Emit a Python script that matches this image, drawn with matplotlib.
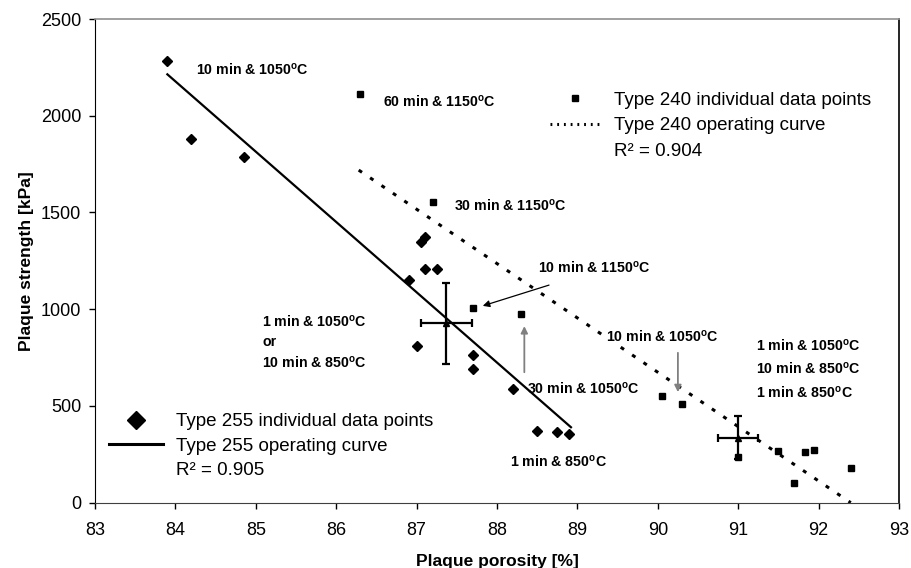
import numpy as np
import matplotlib
matplotlib.use('Agg')
import matplotlib.pyplot as plt
from matplotlib.lines import Line2D

plt.rcParams['font.family'] = ['Liberation Sans', 'DejaVu Sans']
plt.rcParams['mathtext.fontset'] = 'custom'
plt.rcParams['mathtext.rm'] = 'Liberation Sans'
plt.rcParams['mathtext.bf'] = 'Liberation Sans:bold'

# Type 255 individual points (porosity %, strength kPa)
x255 = [83.9, 84.2, 84.85, 87.05, 87.1, 87.1, 87.25, 86.9, 87.0, 87.7, 87.7, 88.2, 88.5, 88.75, 88.9]
y255 = [2285, 1880, 1785, 1350, 1375, 1210, 1210, 1150, 810, 765, 690, 590, 370, 365, 355]

# Type 240 individual points
x240 = [86.3, 87.2, 87.7, 88.3, 90.05, 90.3, 91.0, 91.5, 91.83, 91.94, 91.7, 92.4]
y240 = [2110, 1555, 1005, 975, 553, 508, 236, 268, 263, 274, 102, 178]

# operating curves (end points)
fit255_x = [83.9, 88.92]
fit255_y = [2214, 390]
fit240_x = [86.28, 92.4]
fit240_y = [1719, 0]

# mean +- spread crosses
mean_x = [87.37, 91.0]
mean_y = [927, 336]
err_x = [0.315, 0.25]
err_y = [210, 110]

deg = r'$^{\mathbf{o}}$C'
labels = [
    ('10 min & 1050' + deg, 84.26, 2236),
    ('60 min & 1150' + deg, 86.58, 2071),
    ('30 min & 1150' + deg, 87.47, 1533),
    ('10 min & 1150' + deg, 88.51, 1213),
    ('30 min & 1050' + deg, 88.37, 591),
    ('1 min & 850' + deg, 88.16, 212),
]

fig = plt.figure(figsize=(9.12, 5.68), dpi=100)
ax = fig.add_axes([95 / 912, 1 - 502.7 / 568, 804 / 912, 483.7 / 568])

ax.plot(fit255_x, fit255_y, color='black', lw=1.6, zorder=2)
ax.plot(fit240_x, fit240_y, color='black', lw=2.2, linestyle=(0, (1.3, 3.2)), zorder=2)
ax.plot(x255, y255, linestyle='none', marker='D', ms=5.5, color='black', zorder=3)
ax.plot(x240, y240, linestyle='none', marker='s', ms=5, color='black', zorder=3)
ax.errorbar(mean_x, mean_y, xerr=err_x, yerr=err_y, fmt='^', ms=4, color='black',
            elinewidth=1.6, capsize=3, capthick=1.6, zorder=4)

for txt, tx, ty in labels:
    ax.text(tx, ty, txt, fontsize=10.2, fontweight='bold', va='center', ha='left', zorder=5)

ax.text(85.08, 830, '1 min & 1050' + deg + '\nor\n10 min & 850' + deg, fontsize=10.2,
        fontweight='bold', va='center', ha='left', linespacing=1.45, zorder=5)
ax.text(91.22, 691, '1 min & 1050' + deg + '\n10 min & 850' + deg + '\n1 min & 850' + deg,
        fontsize=10.2, fontweight='bold', va='center', ha='left', linespacing=1.55, zorder=5)
ax.text(89.35, 860, '10 min & 1050' + deg, fontsize=10.2, fontweight='bold', va='center',
        ha='left', zorder=5, bbox=dict(facecolor='white', edgecolor='none', pad=0.5))

ax.annotate('', xy=(87.79, 1013), xytext=(88.68, 1129),
            arrowprops=dict(arrowstyle='-|>', color='black', lw=0.9, mutation_scale=10), zorder=6)
ax.annotate('', xy=(88.34, 927), xytext=(88.34, 660),
            arrowprops=dict(arrowstyle='-|>', color='#808080', lw=1.3, mutation_scale=10), zorder=6)
ax.annotate('', xy=(90.25, 557), xytext=(90.25, 789),
            arrowprops=dict(arrowstyle='-|>', color='#808080', lw=1.3, mutation_scale=10), zorder=6)

ax.set_xlim(83, 93)
ax.set_ylim(0, 2500)
ax.set_xticks(np.arange(83, 94, 1))
ax.set_yticks(np.arange(0, 2501, 500))
ax.tick_params(axis='both', direction='out', length=4, width=1, labelsize=13)
ax.tick_params(axis='x', pad=10)
ax.tick_params(axis='y', pad=6)
ax.spines['top'].set_color('#909090')
ax.spines['top'].set_linewidth(1.2)
ax.spines['right'].set_linewidth(1.2)
ax.spines['bottom'].set_color('#404040')

ax.set_xlabel('Plaque porosity [%]', fontsize=12.5, fontweight='bold', labelpad=11)
ax.set_ylabel('Plaque strength [kPa]', fontsize=12.5, fontweight='bold', labelpad=5)

h1 = [Line2D([], [], linestyle='none', marker='D', ms=9, color='black'),
      Line2D([], [], color='black', lw=2.2),
      Line2D([], [], linestyle='none')]
leg1 = ax.legend(h1, ['Type 255 individual data points', 'Type 255 operating curve', 'R² = 0.905'],
                 loc='upper left', bbox_to_anchor=(0.0174, 0.185), frameon=False, fontsize=13.5,
                 handlelength=2.9, handletextpad=0.7, labelspacing=0.38, borderpad=0, borderaxespad=0)
ax.add_artist(leg1)

h2 = [Line2D([], [], linestyle='none', marker='s', ms=5, color='black'),
      Line2D([], [], color='black', lw=2.2, linestyle=(0, (0.6, 1.6))),
      Line2D([], [], linestyle='none')]
ax.legend(h2, ['Type 240 individual data points', 'Type 240 operating curve', 'R² = 0.904'],
          loc='upper left', bbox_to_anchor=(0.566, 0.85), frameon=False, fontsize=13.5,
          handlelength=2.7, handletextpad=0.7, labelspacing=0.46, borderpad=0, borderaxespad=0)

fig.savefig('out.png', dpi=100)
